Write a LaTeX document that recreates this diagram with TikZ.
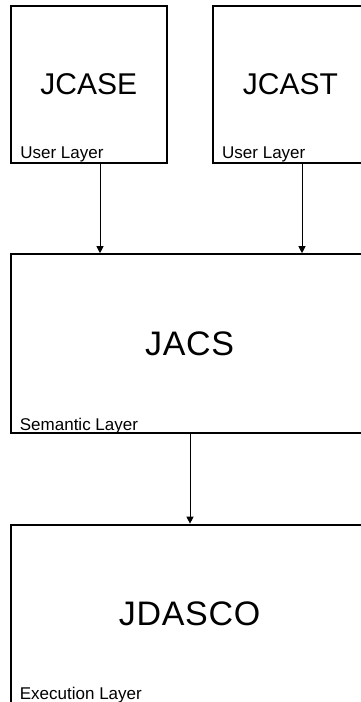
\documentclass[tikz,border=0pt]{standalone}
\usepackage{fontspec}
\setmainfont{Liberation Sans}
\newfontfamily\widesans[LetterSpace=2]{Liberation Sans}
\usetikzlibrary{arrows.meta}

\tikzset{
  layerbox/.style={draw, line width=2pt, inner sep=0pt},
  smalltitle/.style={font=\fontsize{30}{36}\selectfont},
  bigtitle/.style={font=\widesans\fontsize{34}{40}\selectfont},
  layername/.style={anchor=base west, inner sep=0pt, font=\fontsize{17}{20}\selectfont},
  flow/.style={line width=1pt, -{Triangle[length=7pt,width=7pt]}}
}

\begin{document}
\begin{tikzpicture}[x=1pt,y=-1pt]
  \clip (0,0) rectangle (361,702);
  \fill[white] (0,0) rectangle (361,702);

  % user layer components
  \node[layerbox, smalltitle, minimum width=156pt, minimum height=156.6pt] (jcase) at (88.7,84.5) {JCASE};
  \node[layerbox, smalltitle, minimum width=156pt, minimum height=156.6pt] (jcast) at (290.5,84.5) {JCAST};

  % semantic layer
  \node[layerbox, bigtitle, minimum width=357.8pt, minimum height=179.1pt] (jacs) at (189.6,343.75) {JACS};

  % execution layer
  \node[layerbox, bigtitle, minimum width=357.8pt, minimum height=179.1pt] (jdasco) at (189.6,614.2) {JDASCO};

  % layer captions
  \node[layername] (capcase) at ([xshift=10.5pt,yshift=5.5pt]jcase.south west) {User Layer};
  \node[layername] (capcast) at ([xshift=10.5pt,yshift=5.5pt]jcast.south west) {User Layer};
  \node[layername] (capjacs) at ([xshift=10pt,yshift=4pt]jacs.south west) {Semantic Layer};
  \node[layername] (capjdasco) at ([xshift=10pt,yshift=5pt]jdasco.south west) {Execution Layer};

  % dependencies between layers
  \draw[flow] ([xshift=11.3pt]jcase.south) -- ([xshift=11.3pt]jcase.south |- jacs.north);
  \draw[flow] ([xshift=11.5pt]jcast.south) -- ([xshift=11.5pt]jcast.south |- jacs.north);
  \draw[flow] ([xshift=0.4pt]jacs.south) -- ([xshift=0.4pt]jacs.south |- jdasco.north);
\end{tikzpicture}
\end{document}
